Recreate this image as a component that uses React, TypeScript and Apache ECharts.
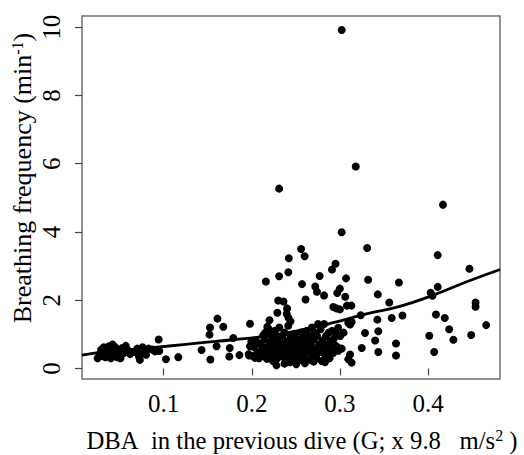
import React, { useEffect, useRef } from "react";
import * as echarts from "echarts";

const xTickValues = [0.1, 0.2, 0.3, 0.4];
const yTickValues = [0, 2, 4, 6, 8, 10];

const upperPoints: number[][] = [
  [0.302, 9.92], [0.318, 5.92], [0.231, 5.27], [0.417, 4.8], [0.302, 3.99], [0.331, 3.53],
  [0.256, 3.5], [0.26, 3.29], [0.411, 3.32], [0.242, 3.23], [0.295, 3.07], [0.447, 2.92],
  [0.291, 2.9], [0.2415, 2.82], [0.231, 2.7], [0.277, 2.71], [0.307, 2.64], [0.332, 2.6],
  [0.216, 2.55], [0.367, 2.52], [0.257, 2.47], [0.411, 2.39], [0.272, 2.4], [0.274, 2.25],
  [0.3, 2.34], [0.297, 2.21], [0.403, 2.22], [0.405, 2.13], [0.343, 2.17], [0.282, 2.14],
  [0.306, 2.1], [0.261, 2.02], [0.23, 1.99], [0.236, 1.96], [0.356, 1.93], [0.454, 1.93],
  [0.454, 1.81], [0.308, 1.84], [0.313, 1.84], [0.2925, 1.8], [0.296, 1.76], [0.3, 1.73],
  [0.24, 1.76], [0.229, 1.63], [0.2396, 1.6], [0.2415, 1.49], [0.244, 1.38], [0.3236, 1.56],
  [0.371, 1.55], [0.3588, 1.48], [0.409, 1.58], [0.419, 1.48], [0.161, 1.46], [0.22, 1.41],
  [0.3425, 1.43],
];

const rightPoints: number[][] = [
  [0.3115, 1.29], [0.3133, 1.36], [0.3095, 1.34], [0.298, 1.19], [0.466, 1.27], [0.424, 1.15],
  [0.3285, 1.04], [0.3436, 1.09], [0.449, 0.98], [0.4015, 0.96], [0.4288, 0.84], [0.34, 0.82],
  [0.3637, 0.73], [0.3248, 0.6], [0.3436, 0.48], [0.407, 0.48], [0.3637, 0.38], [0.3115, 0.41],
  [0.3133, 0.17], [0.3095, 0.27],
];

const midPoints: number[][] = [
  [0.1677, 1.22], [0.1526, 1.2], [0.152, 0.99], [0.198, 1.31], [0.2176, 1.22], [0.219, 1.09],
  [0.213, 0.97], [0.179, 0.89], [0.0943, 0.85], [0.16, 0.65], [0.175, 0.6], [0.143, 0.54],
  [0.153, 0.26], [0.1745, 0.35], [0.186, 0.39], [0.1166, 0.33], [0.1026, 0.27], [0.095, 0.51],
  [0.198, 0.65], [0.197, 0.38], [0.2036, 0.31], [0.228, 0.09], [0.204, 0.7],
];

const leftPoints: number[][] = [
  [0.025, 0.3], [0.027, 0.42], [0.029, 0.55], [0.03, 0.36], [0.032, 0.62], [0.033, 0.48],
  [0.034, 0.33], [0.036, 0.58], [0.037, 0.4], [0.038, 0.65], [0.039, 0.5], [0.04, 0.3],
  [0.041, 0.45], [0.042, 0.7], [0.043, 0.56], [0.044, 0.38], [0.045, 0.62], [0.046, 0.47],
  [0.047, 0.33], [0.048, 0.52], [0.05, 0.4], [0.051, 0.3], [0.053, 0.6], [0.055, 0.45],
  [0.057, 0.66], [0.06, 0.52], [0.062, 0.42], [0.066, 0.48], [0.07, 0.58], [0.072, 0.35],
  [0.073, 0.25], [0.074, 0.45], [0.076, 0.62], [0.078, 0.55], [0.08, 0.4], [0.083, 0.58],
  [0.087, 0.55], [0.09, 0.5],
];

const clusterPoints: number[][] = [
  [0.1965, 0.42], [0.1995, 0.8], [0.2013, 0.36], [0.2028, 0.62], [0.2054, 0.78], [0.2062, 0.45],
  [0.2083, 0.3], [0.2102, 0.72], [0.2114, 0.55], [0.2127, 0.38], [0.2146, 0.85], [0.2152, 1.05],
  [0.2166, 0.62], [0.2171, 0.28], [0.2185, 0.48], [0.2193, 1.15], [0.2207, 0.75], [0.2212, 0.36],
  [0.2224, 0.95], [0.2233, 0.55], [0.2241, 0.22], [0.2256, 0.68], [0.2262, 1.1], [0.2274, 0.42],
  [0.2283, 0.85], [0.2291, 0.3], [0.2305, 0.6], [0.2312, 1.2], [0.2324, 0.48], [0.2331, 0.75],
  [0.2346, 0.95], [0.2352, 0.35], [0.2363, 0.62], [0.2371, 1.05], [0.2385, 0.25], [0.2392, 0.5],
  [0.2404, 0.8], [0.2413, 1.25], [0.2422, 0.4], [0.2435, 0.65], [0.2441, 0.92], [0.2456, 0.3],
  [0.2462, 0.55], [0.2474, 0.22], [0.2483, 0.78], [0.2491, 1.0], [0.2505, 0.45], [0.2512, 0.62],
  [0.2526, 0.35], [0.2531, 0.85], [0.2544, 0.55], [0.2552, 0.25], [0.2566, 1.05], [0.2571, 0.7],
  [0.2585, 0.45], [0.2593, 0.88], [0.2602, 0.6], [0.2614, 0.3], [0.2623, 1.1], [0.2632, 0.78],
  [0.2645, 0.5], [0.2651, 0.95], [0.2664, 0.25], [0.2673, 0.68], [0.2682, 1.2], [0.2694, 0.4],
  [0.2703, 0.85], [0.2712, 1.05], [0.2725, 0.55], [0.2733, 0.3], [0.2741, 0.95], [0.2752, 1.3],
  [0.2764, 0.7], [0.2773, 0.48], [0.2781, 1.15], [0.2794, 0.22], [0.2802, 0.82], [0.2815, 0.6],
  [0.2821, 1.3], [0.2833, 0.38], [0.2842, 0.95], [0.2851, 0.7], [0.2864, 0.5], [0.2872, 1.05],
  [0.2883, 0.3], [0.2895, 0.8], [0.2903, 0.6], [0.2911, 1.1], [0.2924, 0.45], [0.2932, 0.88],
  [0.2945, 0.68], [0.2953, 0.55], [0.2961, 1.0], [0.2974, 0.62], [0.2982, 0.52], [0.3003, 0.95],
  [0.3021, 0.58], [0.3042, 1.05], [0.2831, 0.18], [0.2702, 0.2], [0.2603, 0.15], [0.2504, 0.12],
  [0.2372, 0.14], [0.2433, 0.18],
];

const curveX = [0.0073, 0.028, 0.066, 0.103, 0.141, 0.179, 0.217, 0.255, 0.2925, 0.33, 0.368, 0.406, 0.444, 0.4817];
const curveY = [0.39, 0.47, 0.56, 0.65, 0.75, 0.84, 0.95, 1.12, 1.34, 1.6, 1.82, 2.15, 2.54, 2.9];

const FONT = '"Liberation Serif", "Times New Roman", serif';

export default function App() {
  const ref = useRef<HTMLDivElement>(null);
  useEffect(() => {
    if (!ref.current) return;
    document.body.style.margin = "0";
    const chart = echarts.init(ref.current, undefined, { renderer: "svg" });
    const scatter = [...upperPoints, ...rightPoints, ...midPoints, ...leftPoints, ...clusterPoints];
    const curve = curveX.map((x, i) => [x, curveY[i]]);
    chart.setOption({
      animation: false,
      backgroundColor: "#ffffff",
      grid: {
        left: 82,
        right: 24,
        top: 16,
        bottom: 76,
        show: true,
        borderColor: "#707070",
        borderWidth: 1.5,
        containLabel: false,
      },
      xAxis: {
        type: "value",
        min: 0.0073,
        max: 0.4817,
        splitLine: { show: false },
        axisLine: { show: false },
        axisTick: { show: true, customValues: xTickValues, length: 7, lineStyle: { color: "#444", width: 1.2 } },
        axisLabel: {
          customValues: xTickValues,
          margin: 12,
          color: "#000",
          fontFamily: FONT,
          fontSize: 25,
          formatter: (v: number) => v.toFixed(1),
        },
      },
      yAxis: {
        type: "value",
        min: -0.31,
        max: 10.33,
        splitLine: { show: false },
        axisLine: { show: false },
        axisTick: { show: true, customValues: yTickValues, length: 7, lineStyle: { color: "#444", width: 1.2 } },
        axisLabel: {
          customValues: yTickValues,
          rotate: 90,
          margin: 18,
          color: "#000",
          fontFamily: FONT,
          fontSize: 25,
          formatter: (v: number) => String(Math.round(v)),
        },
      },
      graphic: [
        {
          type: "text",
          x: 302,
          y: 440,
          style: {
            text: "{a|DBA\u00a0\u00a0in the previous dive (G; x 9.8\u00a0\u00a0\u00a0m/s}{s|2}{a|\u00a0)}",
            rich: {
              a: { fontFamily: FONT, fontSize: 24.7, fill: "#000" },
              s: { fontFamily: FONT, fontSize: 16, fill: "#000", verticalAlign: "top", padding: [0, 0, 8, 0] },
            },
            align: "center",
            verticalAlign: "middle",
          },
        },
        {
          type: "text",
          x: 22,
          y: 178,
          rotation: Math.PI / 2,
          style: {
            text: "{a|Breathing frequency (min}{s|-1}{a|)}",
            rich: {
              a: { fontFamily: FONT, fontSize: 26, fill: "#000" },
              s: { fontFamily: FONT, fontSize: 16, fill: "#000", verticalAlign: "top", padding: [0, 0, 8, 0] },
            },
            align: "center",
            verticalAlign: "middle",
          },
        },
      ],
      series: [
        {
          type: "scatter",
          data: scatter,
          symbol: "circle",
          symbolSize: 8,
          itemStyle: { color: "#000", opacity: 1 },
        },
        {
          type: "line",
          data: curve,
          smooth: true,
          showSymbol: false,
          symbol: "none",
          lineStyle: { color: "#000", width: 2.8 },
          z: 3,
        },
      ],
    });
    return () => chart.dispose();
  }, []);
  return <div ref={ref} style={{ width: 524, height: 455 }} />;
}
